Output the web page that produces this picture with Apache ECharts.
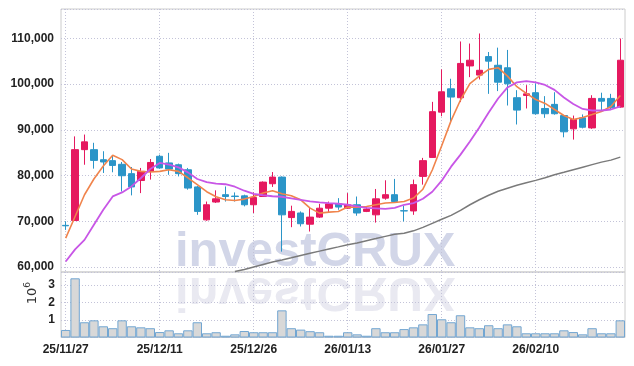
<!DOCTYPE html>
<html>
<head>
<meta charset="utf-8">
<script src="https://cdn.jsdelivr.net/npm/echarts@6/dist/echarts.min.js"></script>
<style>
  html, body { margin: 0; padding: 0; background: #fff; }
  #chart { width: 634px; height: 366px; }
</style>
</head>
<body>
<div id="chart"></div>
<script>
// trading days
const dates = [
  '25/11/27', '25/11/28', '25/12/01', '25/12/02', '25/12/03', '25/12/04', '25/12/05', '25/12/08', '25/12/09', '25/12/10',
  '25/12/11', '25/12/12', '25/12/15', '25/12/16', '25/12/17', '25/12/18', '25/12/19', '25/12/22', '25/12/23', '25/12/24',
  '25/12/26', '25/12/29', '25/12/30', '26/01/02', '26/01/05', '26/01/06', '26/01/07', '26/01/08', '26/01/09', '26/01/12',
  '26/01/13', '26/01/14', '26/01/15', '26/01/16', '26/01/19', '26/01/20', '26/01/21', '26/01/22', '26/01/23', '26/01/26',
  '26/01/27', '26/01/28', '26/01/29', '26/01/30', '26/02/02', '26/02/03', '26/02/04', '26/02/05', '26/02/06', '26/02/09',
  '26/02/10', '26/02/11', '26/02/12', '26/02/13', '26/02/19', '26/02/20', '26/02/23', '26/02/24', '26/02/25', '26/02/26'
];

// [open, close, low, high]
const candles = [
  [69100, 69000, 68100, 70000], [70150, 85650, 70100, 88550], [85650, 87350, 82350, 88950], [85650, 83300, 81500, 87150],
  [83450, 82950, 80550, 85300], [83250, 82200, 80700, 84350], [82450, 79950, 76500, 82950], [80400, 77500, 75650, 81850],
  [78900, 80900, 76150, 81650], [80900, 82850, 79100, 83600], [84200, 81650, 81500, 84550], [82750, 81400, 80150, 84950],
  [82350, 80400, 79800, 82600], [81250, 77250, 76900, 81650], [77500, 72150, 71400, 77700], [70300, 73600, 70100, 74300],
  [74200, 74900, 74000, 76750], [75800, 75400, 74300, 77600], [75500, 75400, 74300, 76300], [75550, 73600, 73250, 75800],
  [73600, 75200, 71800, 76300], [75400, 78550, 75400, 78700], [78200, 79650, 77500, 80750], [79650, 71400, 63350, 79800],
  [70800, 72150, 68700, 73400], [71800, 69450, 68850, 72150], [69350, 70900, 67750, 73100], [70900, 72850, 70700, 73800],
  [72850, 73800, 71800, 74300], [73800, 73100, 72500, 75050], [72850, 73600, 72700, 76150], [73600, 71800, 71200, 75400],
  [72150, 72650, 72000, 73250], [71400, 74900, 69700, 77050], [75050, 75800, 74700, 78950], [75800, 74300, 74200, 79250],
  [72300, 72250, 69950, 73400], [72250, 78000, 71400, 79100], [79800, 83250, 78000, 83850], [83950, 93950, 83900, 96100],
  [93850, 98300, 92950, 103200], [98950, 97150, 91500, 101150], [97000, 104500, 96050, 109300], [103950, 105200, 101500, 108850],
  [101950, 103000, 101000, 111050], [106000, 105000, 97850, 107000], [104100, 100400, 98450, 107950], [103550, 100050, 95300, 107450],
  [97000, 94300, 91150, 98650], [97500, 97850, 94650, 99750], [98100, 93500, 93300, 100150], [94650, 93500, 92600, 97350],
  [95550, 93500, 93300, 98200], [93100, 89550, 88350, 93200], [90200, 92250, 87850, 93100], [92600, 90550, 90300, 93350],
  [90400, 96850, 90200, 97550], [96850, 96250, 94050, 98100], [96850, 94800, 94450, 97850], [94950, 105200, 94800, 109950]
];

const ma5 = [
  66300, 71030, 75790, 79230, 82080, 84410, 83470, 81420, 80900, 80770,
  80900, 81270, 80900, 79500, 78000, 76450, 75350, 74690, 74540, 74840,
  75420, 76160, 76670, 76000, 75570, 74690, 72870, 71780, 72000, 72130,
  73090, 73090, 73230, 73600, 73970, 74100, 74320, 75060, 77000, 81200,
  86500, 92000, 96500, 100070, 101730, 103200, 103570, 101730, 99410, 97940,
  96620, 95750, 94430, 93110, 92240, 92680, 93330, 93990, 95090, 97500
];

const ma10 = [
  61200, 63840, 65920, 69210, 72500, 75420, 76300, 77610, 79450, 81420,
  82740, 82370, 81780, 80680, 79230, 78570, 78200, 78090, 77540, 76670,
  76000, 75680, 75460, 75350, 75020, 74690, 74360, 74140, 73970, 73820,
  73600, 73270, 72940, 72830, 72720, 72940, 73600, 73970, 74910, 76450,
  78860, 81930, 84560, 87410, 90480, 93770, 96840, 99250, 100350, 100640,
  100350, 99800, 98710, 97060, 95640, 94540, 94210, 94210, 94430, 95090
];

const maLong = [
  '-', '-', '-', '-', '-', '-', '-', '-', '-', '-',
  '-', '-', '-', '-', '-', '-', '-', '-', 59000, 59450,
  60000, 60550, 61100, 61530, 62020, 62520, 63000, 63460, 63950, 64390,
  64870, 65260, 65750, 66210, 66690, 67130, 67390, 67900, 68660, 69540,
  70420, 71290, 72390, 73600, 74690, 75680, 76560, 77220, 77870, 78420,
  78930, 79520, 80180, 80720, 81270, 81820, 82370, 82920, 83360, 84010
];

// volume, in 10^6 shares
const volumes = [
  0.43, 3.38, 0.87, 0.98, 0.64, 0.53, 0.98, 0.64, 0.58, 0.53,
  0.31, 0.41, 0.24, 0.41, 0.87, 0.24, 0.30, 0.10, 0.18, 0.37,
  0.30, 0.30, 0.30, 1.55, 0.53, 0.45, 0.36, 0.30, 0.10, 0.10,
  0.30, 0.18, 0.10, 0.53, 0.30, 0.30, 0.48, 0.58, 0.75, 1.34,
  1.04, 0.87, 1.27, 0.58, 0.53, 0.70, 0.53, 0.75, 0.64, 0.24,
  0.24, 0.24, 0.24, 0.41, 0.31, 0.18, 0.53, 0.24, 0.24, 0.98
];

const priceTicks = [60000, 70000, 80000, 90000, 100000, 110000];
const volumeTicks = [1, 2, 3];

const chart = echarts.init(document.getElementById('chart'));

const labelFont = {
  fontFamily: "'Liberation Sans', Arial, sans-serif",
  fontWeight: 'bold',
  fontSize: 12,
  color: '#222',
};
const dotted = { color: '#c3c3d8', type: [1, 2], width: 1 };
const vSplit = { show: true, interval: 9, alignWithLabel: true, lineStyle: dotted };
const wmFont = 'bold 49px "Liberation Sans", Arial, sans-serif';

const option = {
  animation: false,
  backgroundColor: '#fff',
  grid: [
    { left: 61, right: 9, top: 9, height: 263, show: true, borderColor: '#cccccc', borderWidth: 1, outerBoundsMode: 'none', containLabel: false },
    { left: 61, right: 9, top: 272, height: 65.5, show: true, borderColor: '#cccccc', borderWidth: 1, outerBoundsMode: 'none', containLabel: false },
  ],
  graphic: [
    {
      type: 'text', z: -10, x: 175, y: 252,
      style: { text: 'investCRUX', fill: '#d2d6e8', font: wmFont, verticalAlign: 'middle' },
    },
    {
      type: 'text', z: -10, x: 175, y: 292, scaleY: -1,
      style: { text: 'investCRUX', fill: '#e9e9f1', font: wmFont, verticalAlign: 'middle' },
    },
    {
      type: 'group', x: 33, y: 296, rotation: Math.PI / 2,
      children: [
        { type: 'text', x: 0, y: 0, style: { text: '10', fill: '#333', font: '13px "DejaVu Sans", sans-serif', align: 'center', verticalAlign: 'middle' } },
        { type: 'text', x: 11, y: -5, style: { text: '6', fill: '#333', font: '9px "DejaVu Sans", sans-serif', align: 'center', verticalAlign: 'middle' } },
      ],
    },
  ],
  xAxis: [
    {
      type: 'category', gridIndex: 0, data: dates, boundaryGap: true,
      axisLine: { show: false }, axisTick: { show: false }, axisLabel: { show: false },
      splitLine: vSplit,
    },
    {
      type: 'category', gridIndex: 1, data: dates, boundaryGap: true,
      axisLine: { show: false }, axisTick: { show: false },
      axisLabel: Object.assign({ interval: 9, margin: 6 }, labelFont),
      splitLine: vSplit,
    },
  ],
  yAxis: [
    {
      type: 'value', gridIndex: 0, min: 58900, max: 116400, splitNumber: 5,
      axisLine: { show: false }, axisTick: { show: false },
      axisLabel: Object.assign({
        margin: 7, showMinLabel: false, showMaxLabel: false,
        formatter: (v) => (priceTicks.indexOf(v) >= 0 ? v.toLocaleString('en-US') : ''),
      }, labelFont),
      splitLine: { show: true, lineStyle: dotted },
    },
    {
      type: 'value', gridIndex: 1, min: 0, max: 3.74, interval: 1,
      axisLine: { show: false }, axisTick: { show: false },
      axisLabel: Object.assign({
        margin: 6, showMinLabel: false, showMaxLabel: false,
        formatter: (v) => (volumeTicks.indexOf(v) >= 0 ? String(v) : ''),
      }, labelFont),
      splitLine: { show: true, lineStyle: dotted },
    },
  ],
  series: [
    {
      type: 'candlestick', xAxisIndex: 0, yAxisIndex: 0, data: candles, barWidth: 7,
      itemStyle: { color: '#e5195f', color0: '#2b95c8', borderColor: '#e5195f', borderColor0: '#2b95c8', borderWidth: 1 },
    },
    {
      name: 'MA5', type: 'line', xAxisIndex: 0, yAxisIndex: 0, data: ma5, symbol: 'none',
      lineStyle: { color: '#f0844c', width: 1.6 },
    },
    {
      name: 'MA10', type: 'line', xAxisIndex: 0, yAxisIndex: 0, data: ma10, symbol: 'none',
      lineStyle: { color: '#c856e6', width: 1.8 },
    },
    {
      name: 'MA', type: 'line', xAxisIndex: 0, yAxisIndex: 0, data: maLong, symbol: 'none',
      lineStyle: { color: '#7a7a7a', width: 1.5 },
    },
    {
      type: 'bar', xAxisIndex: 1, yAxisIndex: 1, data: volumes, barWidth: '100%',
      itemStyle: { color: '#d8d8d8', borderColor: '#72a6d2', borderWidth: 1 },
    },
  ],
};

chart.setOption(option);
</script>
</body>
</html>
